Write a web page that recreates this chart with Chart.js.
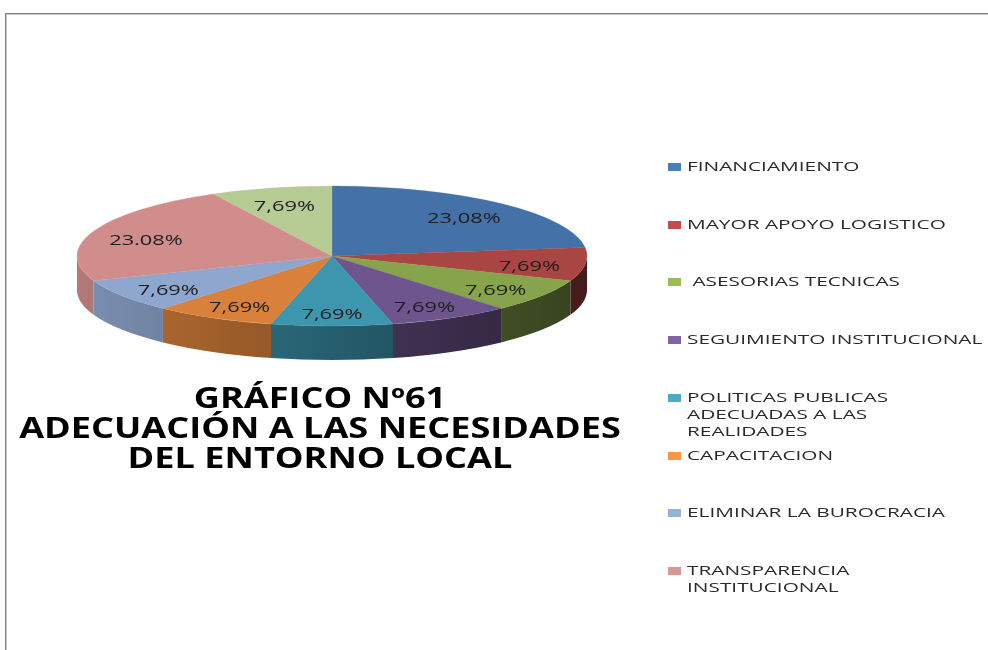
<!DOCTYPE html>
<html>
<head>
<meta charset="utf-8">
<script src="https://cdn.jsdelivr.net/npm/chart.js@4.4.1/dist/chart.umd.min.js"></script>
<style>
  body { margin: 0; background: #fff; width: 988px; height: 650px; overflow: hidden; position: relative; }
  #frame {
    position: absolute; left: 5px; top: 13px; right: 0; bottom: 0;
    border-top: 1px solid #808080; border-left: 1px solid #808080;
    box-shadow: inset 1px 1px 0 #c8c8c8;
  }
  #chart { position: absolute; left: 0; top: 0; }
  #title {
    position: absolute; left: 0; top: 382px; width: 640px;
    font: bold 28px "Open Sans", sans-serif; line-height: 30px; color: #000;
    text-align: center;
  }
  #title div { transform: scaleX(1.29); transform-origin: 320px 0; white-space: nowrap; }
  .item { position: absolute; left: 668px; }
  .swatch { position: absolute; left: 0; top: 5px; width: 13px; height: 8px; }
  .text {
    position: absolute; left: 19px; top: 0; white-space: pre;
    font: 13px "Open Sans", sans-serif; line-height: 17px; color: #2a2a2a;
    transform: scaleX(1.6); transform-origin: 0 0;
  }
</style>
</head>
<body>
<div id="frame"></div>
<canvas id="chart" width="988" height="650"></canvas>
<div id="title">
  <div>GRÁFICO Nº61</div>
  <div>ADECUACIÓN A LAS NECESIDADES</div>
  <div>DEL ENTORNO LOCAL</div>
</div>
<div id="legend"></div>
<script>
// categories (the last slice has no legend entry)
const categories = [
  ['FINANCIAMIENTO'],
  ['MAYOR APOYO LOGISTICO'],
  [' ASESORIAS TECNICAS'],
  ['SEGUIMIENTO INSTITUCIONAL'],
  ['POLITICAS PUBLICAS', 'ADECUADAS A LAS', 'REALIDADES'],
  ['CAPACITACION'],
  ['ELIMINAR LA BUROCRACIA'],
  ['TRANSPARENCIA', 'INSTITUCIONAL'],
  ['']
];
const percents = [23.08, 7.69, 7.69, 7.69, 7.69, 7.69, 7.69, 23.08, 7.69];
const decimalMarks = [',', ',', ',', ',', ',', ',', ',', '.', ','];

const sliceColors  = ['#4472a8', '#a94543', '#87a34b', '#6f558e', '#3c96ae', '#d9813a', '#8fa7cf', '#d08d8c', '#b7cb95'];
const legendColors = ['#4a7ebb', '#c0504d', '#9bbb59', '#8064a2', '#4bacc6', '#f79646', '#95b3d7', '#d99694', '#c3d69b'];

// top face ellipse and wall height
const CX = 332, CY = 256, RX = 255, RY = 70, DEPTH = 34;
const LABEL_POS = 0.78;
const TEXT_STRETCH = 1.56;

function shade(hex, k) {
  const n = parseInt(hex.slice(1), 16);
  const r = Math.round(((n >> 16) & 255) * k);
  const g = Math.round(((n >> 8) & 255) * k);
  const b = Math.round((n & 255) * k);
  return `rgb(${r},${g},${b})`;
}

// walls get darker from left to right
function wallLight(x) {
  const t = Math.min(Math.max((x - (CX - RX)) / (2 * RX), 0), 1);
  return 0.86 - 0.46 * t;
}

const pie3d = {
  id: 'pie3d',
  beforeDatasetsDraw(chart) {
    const ctx = chart.ctx;
    const arcs = chart.getDatasetMeta(0).data;

    arcs.forEach((arc, i) => {
      const a0 = Math.max(arc.startAngle, 0);
      const a1 = Math.min(arc.endAngle, Math.PI);
      if (a1 <= a0) return;
      const x0 = CX + RX * Math.cos(a0);
      const x1 = CX + RX * Math.cos(a1);
      const grad = ctx.createLinearGradient(x0, 0, x1, 0);
      grad.addColorStop(0, shade(sliceColors[i], wallLight(x0)));
      grad.addColorStop(1, shade(sliceColors[i], wallLight(x1)));
      ctx.beginPath();
      ctx.ellipse(CX, CY, RX, RY, 0, a0, a1);
      ctx.ellipse(CX, CY + DEPTH, RX, RY, 0, a1, a0, true);
      ctx.closePath();
      ctx.fillStyle = grad;
      ctx.fill();
    });

    // squash the round pie into the top face
    const a = arcs[0];
    ctx.save();
    ctx.translate(CX, CY);
    ctx.scale(RX / a.outerRadius, RY / a.outerRadius);
    ctx.translate(-a.x, -a.y);
  },
  afterDatasetsDraw(chart) {
    const ctx = chart.ctx;
    ctx.restore();

    const arcs = chart.getDatasetMeta(0).data;
    ctx.save();
    ctx.font = '14px "Open Sans", sans-serif';
    ctx.fillStyle = '#1e1e1e';
    ctx.textAlign = 'center';
    ctx.textBaseline = 'middle';
    arcs.forEach((arc, i) => {
      const mid = (arc.startAngle + arc.endAngle) / 2;
      const x = CX + LABEL_POS * RX * Math.cos(mid);
      const y = CY + LABEL_POS * RY * Math.sin(mid) + 4;
      const txt = percents[i].toFixed(2).replace('.', decimalMarks[i]) + '%';
      ctx.save();
      ctx.translate(x, y);
      ctx.scale(TEXT_STRETCH, 1);
      ctx.fillText(txt, 0, 0);
      ctx.restore();
    });
    ctx.restore();
  }
};

new Chart(document.getElementById('chart'), {
  type: 'pie',
  data: {
    labels: categories,
    datasets: [{
      data: percents,
      backgroundColor: sliceColors,
      borderColor: sliceColors,
      borderWidth: 0.5,
      hoverOffset: 0,
      offset: 0
    }]
  },
  options: {
    responsive: false,
    animation: false,
    events: [],
    layout: { padding: { left: 60, right: 380, top: 60, bottom: 60 } },
    plugins: {
      legend: { display: false },
      tooltip: { enabled: false }
    }
  },
  plugins: [pie3d]
});

// legend on the right
const legend = document.getElementById('legend');
const LEGEND_TOP = 158, LEGEND_STEP = 57.7;
categories.slice(0, 8).forEach((lines, i) => {
  const item = document.createElement('div');
  item.className = 'item';
  item.style.top = (LEGEND_TOP + i * LEGEND_STEP) + 'px';
  item.innerHTML = `<span class="swatch" style="background:${legendColors[i]}"></span>` +
    `<span class="text">${lines.join('\n')}</span>`;
  legend.appendChild(item);
});
</script>
</body>
</html>
